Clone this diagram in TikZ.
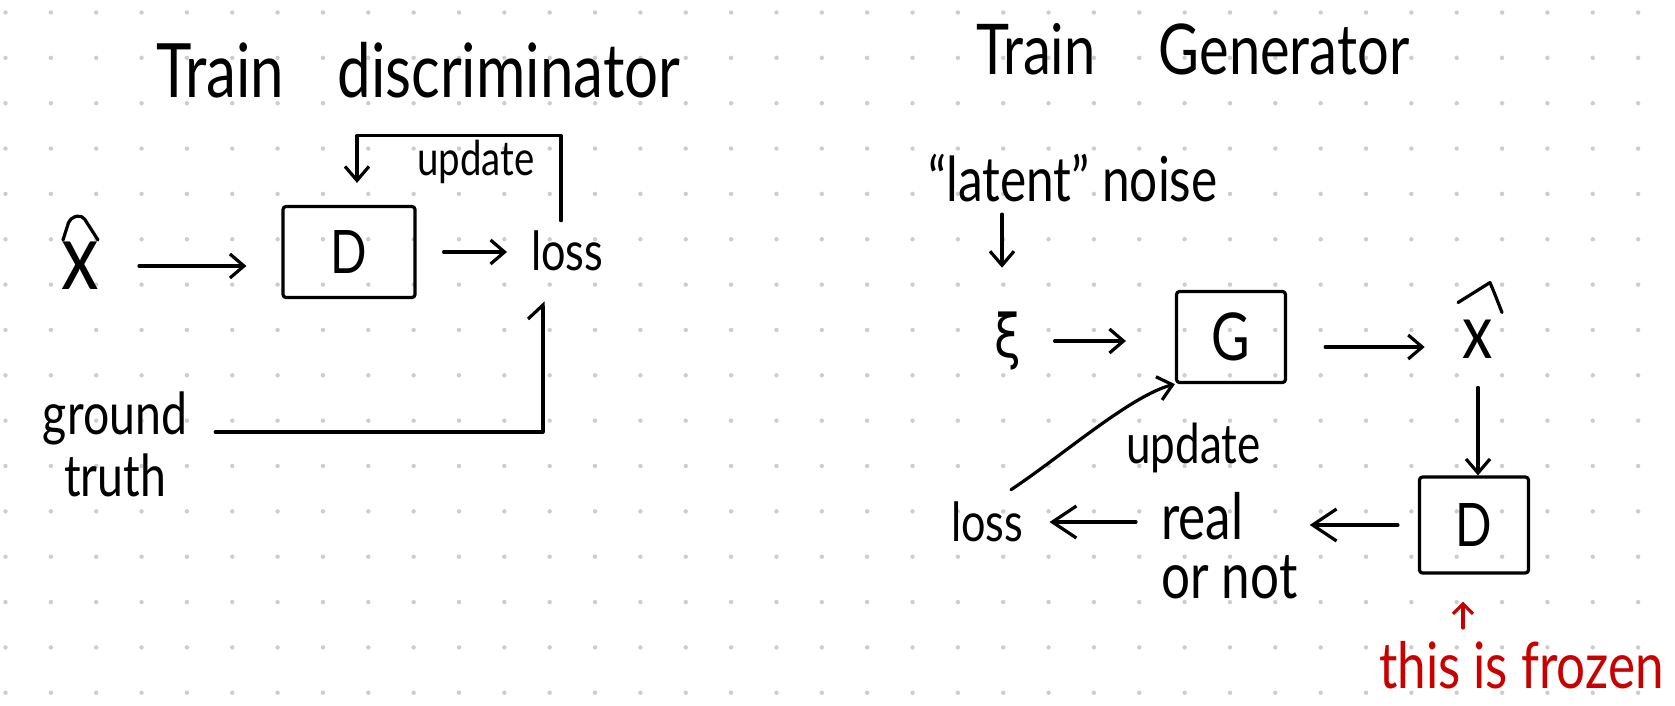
\documentclass[tikz,border=0pt]{standalone}
\usepackage{fontspec}
\setmainfont{Lato}[FakeStretch=0.8]
\newfontfamily\grk{DejaVu Sans}[FakeStretch=0.8]
\usetikzlibrary{arrows.meta,calc}
\definecolor{redink}{RGB}{200,0,0}
\definecolor{dotc}{RGB}{205,205,205}
\begin{document}
\begin{tikzpicture}[x=1pt,y=-1pt,
  ink/.style={draw=black,line width=3.2pt,line cap=round,line join=round},
  arr/.style={ink,-{Straight Barb[length=14pt,width=24pt]}},
  bigarr/.style={ink,-{Straight Barb[length=24pt,width=32pt]}},
  lbl/.style={inner sep=0pt,text=black},
  box/.style={ink,inner sep=0pt,rounded corners=3pt},
]
\useasboundingbox (0,0) rectangle (1675,705);
\fill[white] (0,0) rectangle (1675,705);
\foreach \i in {0,...,36}{\foreach \j in {0,...,15}{\fill[dotc] (5.5+45.35*\i,12.5+45.35*\j) circle (2.2pt);}}

% ---- left panel
\node[lbl,anchor=west,font=\fontsize{75}{80}\selectfont] (t1) at (156,70) {Train\hspace{38pt} discriminator};
\node[lbl,font=\fontsize{94}{94}\selectfont] (xh1) at (80,266) {x};
\node[box,minimum width=132pt,minimum height=91pt,font=\fontsize{60}{60}\selectfont] (D1) at (349,252) {D};
\node[lbl,anchor=west,font=\fontsize{54}{60}\selectfont] (loss1) at (531,251) {loss};
\node[lbl,anchor=west,font=\fontsize{48}{50}\selectfont] (up1) at (417,162) {update};
\node[lbl,align=center,font=\fontsize{58}{62}\selectfont] (gt) at (115,444) {ground\\truth};

\draw[ink,rounded corners=5pt] ([shift={(-17,-2)}]xh1.north) -- ([shift={(-10,-24)}]xh1.north) -- ([shift={(2,-27)}]xh1.north) -- ([shift={(18,-2)}]xh1.north);
\draw[arr,shorten <=40pt,shorten >=35pt] (xh1.east) -- (xh1.east -| D1.west);
\draw[arr,shorten <=27pt,shorten >=24pt] (D1.east) -- (D1.east -| loss1.west);
\draw[arr,shorten >=22pt] ([xshift=30pt,yshift=10pt]loss1.north west) -- ++(0,-85) -| ([xshift=8pt]D1.north);
\draw[ink,-{Straight Barb[left,length=14pt,width=30pt]},shorten >=30pt] ([xshift=28pt,yshift=12pt]gt.east) -| ([xshift=12pt]loss1.south west);

% ---- right panel
\node[lbl,anchor=west,font=\fontsize{70}{75}\selectfont] (t2) at (976,49) {Train\hspace{49pt} Generator};
\node[lbl,anchor=west,font=\fontsize{62}{66}\selectfont] (noise) at (928,178) {“latent” noise};
\node[lbl,font={\grk\fontsize{60}{60}\selectfont}] (z) at (1008,341) {ξ};
\node[box,minimum width=109pt,minimum height=91pt,font=\fontsize{66}{66}\selectfont] (G) at (1231,337) {G};
\node[lbl,font=\fontsize{76}{76}\selectfont] (xh2) at (1478,339) {x};
\node[box,minimum width=109pt,minimum height=96pt,font=\fontsize{60}{60}\selectfont] (D2) at (1474,525) {D};
\node[lbl,anchor=west,align=left,font=\fontsize{64}{59}\selectfont] (ron) at (1161,546) {real\\or not};
\node[lbl,anchor=west,font=\fontsize{54}{60}\selectfont] (loss2) at (951,522) {loss};
\node[lbl,anchor=west,font=\fontsize{55}{60}\selectfont] (up2) at (1126,448) {update};
\node[lbl,anchor=west,text=redink,font=\fontsize{64}{64}\selectfont] (fz) at (1379,665) {this is frozen};

\draw[ink] ([shift={(-20,-17)}]xh2.north) -- ([shift={(12,-37)}]xh2.north) .. controls ([shift={(17,-25)}]xh2.north) .. ([shift={(24,-7)}]xh2.north);
\draw[arr,shorten <=12pt,shorten >=44pt] ([xshift=-6pt]z.north |- noise.south) -- ([xshift=-6pt]z.north);
\draw[arr,shorten <=33pt,shorten >=49pt] (z.east) -- (z.east -| G.west);
\draw[arr,shorten <=38pt,shorten >=38pt] ([yshift=-10pt]G.east) -- ([yshift=-10pt]G.east -| xh2.west);
\draw[arr,shorten <=29pt] (xh2.south) -- (xh2.south |- D2.north);
\draw[bigarr,shorten <=20pt] (D2.west) -- ([xshift=12pt]ron.east |- D2.west);
\draw[bigarr,shorten <=25pt,shorten >=26pt] (ron.west |- loss2.east) -- (loss2.east);
\draw[arr] ([xshift=60pt,yshift=12pt]loss2.north west) .. controls +(50,-33) and +(-45,12) .. (G.south west);
\draw[ink,draw=redink,-{Straight Barb[length=10pt,width=20pt]},shorten <=13pt,shorten >=27pt] ([xshift=-11pt]D2.south |- fz.north) -- ([xshift=-11pt]D2.south);
\end{tikzpicture}
\end{document}
